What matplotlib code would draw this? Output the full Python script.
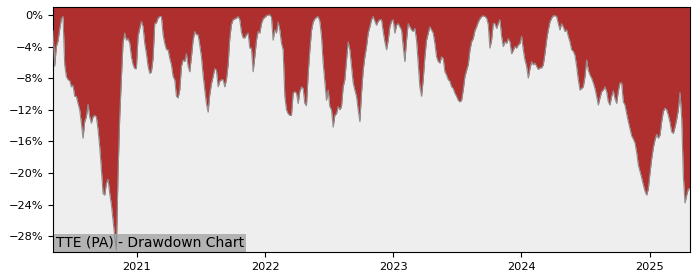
import matplotlib
matplotlib.use("Agg")
import matplotlib.pyplot as plt
import matplotlib.dates as mdates
from matplotlib.ticker import MultipleLocator, FuncFormatter
import pandas as pd
import numpy as np

title_text = "TTE (PA) - Drawdown Chart"
start_date = "2020-05-07"
end_date = "2025-04-25"

# drawdown in percent (negative), sampled on a regular grid between start and end
drawdown = [
    -2.0, -6.5, -4.0, -3.3, -1.8, -0.5, -0.2, -6.3, -7.8, -8.2,
    -8.3, -9.1, -8.9, -10.3, -10.3, -11.2, -12.0, -13.7, -15.6, -13.5,
    -12.9, -11.3, -12.9, -13.7, -12.9, -12.7, -12.9, -14.5, -16.7, -19.5,
    -22.6, -22.8, -21.3, -20.8, -22.6, -24.0, -26.0, -28.0, -29.8, -20.0,
    -13.0, -8.0, -3.5, -2.3, -3.2, -3.0, -3.6, -5.3, -6.3, -6.8,
    -6.8, -2.7, -1.7, -0.8, -1.5, -3.6, -4.9, -6.5, -7.4, -7.2,
    -5.5, -1.1, -1.0, -0.4, -0.2, -0.2, -2.5, -3.6, -4.4, -4.4,
    -5.5, -6.3, -7.8, -8.2, -10.3, -10.5, -9.5, -6.5, -5.7, -5.9,
    -4.9, -6.5, -7.2, -5.3, -3.2, -2.1, -2.5, -2.5, -3.8, -5.3,
    -7.6, -9.5, -11.2, -12.3, -10.1, -8.7, -7.8, -6.8, -7.0, -9.1,
    -8.4, -8.2, -8.2, -9.1, -8.2, -6.3, -3.0, -1.2, -0.6, -0.5,
    -0.4, -0.2, -0.6, -2.2, -2.9, -2.9, -2.5, -2.3, -4.2, -4.2,
    -7.2, -5.3, -3.2, -2.1, -2.3, -1.1, -0.5, -0.3, -0.1, 0.0,
    0.0, -0.3, -3.2, -1.9, -2.3, -0.9, -1.9, -3.6, -4.4, -10.3,
    -12.0, -12.5, -12.7, -12.7, -9.9, -9.7, -9.9, -11.2, -9.7, -9.1,
    -9.3, -11.2, -11.5, -7.5, -4.5, -2.0, -0.9, -0.5, -0.3, -0.2,
    -0.8, -2.7, -6.1, -8.4, -10.8, -9.5, -11.6, -12.0, -14.2, -12.7,
    -12.5, -11.6, -12.0, -11.6, -9.1, -8.2, -5.7, -3.4, -4.4, -6.5,
    -8.6, -9.5, -10.3, -12.0, -13.5, -9.9, -7.0, -5.3, -4.0, -2.3,
    -1.5, -0.6, -0.2, -0.8, -1.3, -0.8, -0.6, -0.6, -2.1, -3.4,
    -4.4, -3.2, -1.5, -0.8, -0.6, -2.3, -1.3, -1.1, -1.5, -1.9,
    -4.0, -5.9, -3.2, -1.1, -1.5, -1.9, -2.1, -1.7, -3.2, -6.1,
    -9.1, -10.3, -8.2, -5.3, -3.2, -2.3, -1.5, -1.9, -2.3, -3.6,
    -5.3, -5.9, -6.1, -5.3, -5.5, -7.2, -7.6, -8.2, -8.4, -9.1,
    -9.3, -9.9, -10.3, -10.8, -11.0, -10.8, -9.5, -7.8, -7.0, -6.3,
    -4.5, -3.4, -3.0, -2.0, -1.5, -0.9, -0.5, -0.2, -0.1, -0.2,
    -0.4, -1.2, -4.2, -3.2, -1.1, -1.1, -1.7, -1.1, -0.6, -2.7,
    -4.0, -3.4, -3.6, -3.0, -3.4, -4.9, -4.5, -4.0, -4.2, -3.8,
    -3.6, -2.7, -4.4, -5.7, -6.5, -8.0, -6.8, -5.9, -6.3, -6.1,
    -6.5, -6.9, -6.7, -6.7, -6.3, -4.9, -3.2, -1.9, -0.9, -0.4,
    -0.1, -0.1, -0.2, -1.1, -1.9, -1.1, -1.5, -2.1, -1.9, -2.7,
    -3.4, -4.4, -4.6, -5.1, -6.5, -8.2, -9.5, -9.3, -9.1, -7.8,
    -5.7, -7.0, -7.6, -8.0, -8.6, -9.3, -10.3, -11.4, -10.5, -9.7,
    -9.5, -9.1, -9.7, -11.0,
    -11.4, -10.3, -9.6, -10.6, -11.2, -9.6, -8.6, -8.6, -11.0, -11.4,
    -12.5, -13.5, -14.4, -15.3, -15.7, -16.2, -17.4, -19.0, -19.8, -20.6,
    -21.5, -22.3, -22.8, -22.0, -20.0, -18.2, -16.8, -15.8, -15.1, -15.6,
    -15.2, -13.5, -12.2, -11.8, -12.0, -12.7, -13.6, -14.8, -15.0, -14.2,
    -13.2, -12.0, -9.8, -13.0, -20.4, -23.8, -22.8, -22.0, -22.0,
]

dates = pd.date_range(start_date, end_date, periods=len(drawdown))
dd = np.array(drawdown)

y_top = 1.0
y_bottom = -30.0

fig = plt.figure(figsize=(7, 2.8), dpi=100)
ax = fig.add_axes([53 / 700, 1 - 252 / 280, (690 - 53) / 700, (252 - 7) / 280])
ax.set_facecolor("#eeeeee")

ax.fill_between(dates, dd, y_top + 1, color="#af2f2f", linewidth=0, zorder=2)
ax.plot(dates, dd, color="#8f8f8f", linewidth=0.8, zorder=3)

ax.set_xlim(dates[0], dates[-1])
ax.set_ylim(y_bottom, y_top)

ax.yaxis.set_major_locator(MultipleLocator(4))
ax.yaxis.set_major_formatter(FuncFormatter(
    lambda v, p: ("\u2212" if v < -0.01 else "") + f"{abs(v):.0f}%"))
ax.xaxis.set_major_locator(mdates.YearLocator())
ax.xaxis.set_major_formatter(mdates.DateFormatter("%Y"))
ax.tick_params(labelsize=8.2)

ax.annotate(title_text, xy=(0, 0), xycoords="axes fraction",
            xytext=(2, 1.5), textcoords="offset points",
            ha="left", va="bottom", fontsize=10, color="black", zorder=2.5,
            bbox=dict(boxstyle="square,pad=0.12", facecolor="#b3b3b3",
                      edgecolor="none"))

fig.savefig("out.png", dpi=100)
